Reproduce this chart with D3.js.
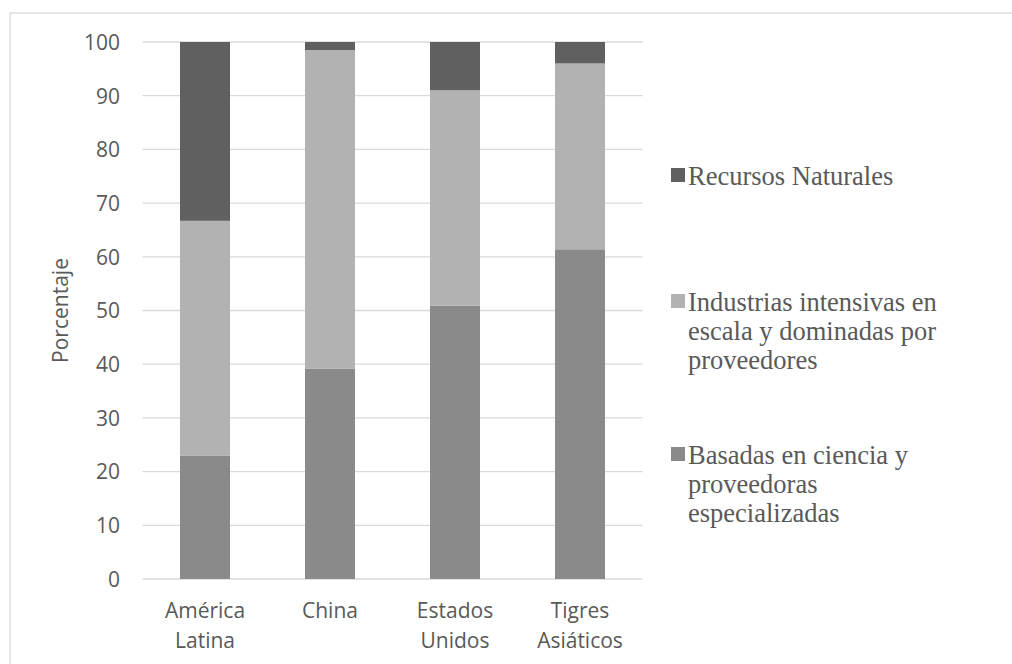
<!DOCTYPE html>
<html>
<head>
<meta charset="utf-8">
<script src="https://cdn.jsdelivr.net/npm/d3@7"></script>
<style>
  html, body { margin: 0; padding: 0; background: #fff; }
  svg { display: block; }
</style>
</head>
<body>
<svg id="chart" width="1012" height="664"></svg>
<script>
const categories = [["América", "Latina"], ["China"], ["Estados", "Unidos"], ["Tigres", "Asiáticos"]];
const categoryKeys = ["América Latina", "China", "Estados Unidos", "Tigres Asiáticos"];
const basadas = [23.0, 39.2, 50.9, 61.4];
const industrias = [43.7, 59.3, 40.1, 34.6];
const recursos = [33.3, 1.5, 9.0, 4.0];
const yTicks = [0, 10, 20, 30, 40, 50, 60, 70, 80, 90, 100];
const seriesNames = ["Basadas en ciencia y proveedoras especializadas", "Industrias intensivas en escala y dominadas por proveedores", "Recursos Naturales"];
const legendLines = [
  ["Recursos Naturales"],
  ["Industrias intensivas en", "escala y dominadas por", "proveedores"],
  ["Basadas en ciencia y", "proveedoras", "especializadas"]
];
const colors = { basadas: "#8a8a8a", industrias: "#b2b2b2", recursos: "#606060" };

const svg = d3.select("#chart");
const textColor = "#595959";
const gridColor = "#d9d9d9";
const sansSize = "21px";

// outer frame (top and left visible)
svg.append("rect").attr("x", 10).attr("y", 13).attr("width", 1100).attr("height", 800)
  .attr("fill", "none").attr("stroke", gridColor).attr("stroke-width", 1.3);

const plotLeft = 142.5, plotRight = 642.5, plotTop = 42, plotBottom = 579;

const x = d3.scaleBand().domain(categoryKeys).range([plotLeft, plotRight])
  .paddingInner(0.6).paddingOuter(0.3);
const y = d3.scaleLinear().domain([0, 100]).range([plotBottom, plotTop]);

// gridlines
svg.append("g").selectAll("line").data(yTicks).join("line")
  .attr("x1", plotLeft).attr("x2", plotRight)
  .attr("y1", d => y(d)).attr("y2", d => y(d))
  .attr("stroke", gridColor).attr("stroke-width", 1.3);

// y axis labels
const yAxis = d3.axisLeft(y).tickValues(yTicks).tickSize(0).tickPadding(0);
const yg = svg.append("g").attr("transform", `translate(120,0)`).call(yAxis);
yg.select(".domain").remove();
yg.selectAll("text").attr("fill", textColor)
  .style("font-family", "'Open Sans', sans-serif").style("font-size", sansSize)
  .attr("dy", "0.35em").attr("x", 0);

// stacked data
const rows = categoryKeys.map((k, i) => ({ key: k, basadas: basadas[i], industrias: industrias[i], recursos: recursos[i] }));
const stack = d3.stack().keys(["basadas", "industrias", "recursos"]);
const stacked = stack(rows);

svg.append("g").selectAll("g").data(stacked).join("g")
  .attr("fill", d => colors[d.key])
  .selectAll("rect").data(d => d).join("rect")
  .attr("x", d => x(d.data.key))
  .attr("width", x.bandwidth())
  .attr("y", d => y(d[1]))
  .attr("height", d => y(d[0]) - y(d[1]));

// x labels
const xl = svg.append("g");
categories.forEach((lines, i) => {
  const cx = x(categoryKeys[i]) + x.bandwidth() / 2;
  const t = xl.append("text").attr("text-anchor", "middle").attr("fill", textColor)
    .style("font-family", "'Open Sans', sans-serif").style("font-size", sansSize);
  lines.forEach((ln, j) => {
    t.append("tspan").attr("x", cx).attr("y", 618 + j * 29.5).text(ln);
  });
});

// y axis title
svg.append("text")
  .attr("transform", `translate(68,${(plotTop + plotBottom) / 2}) rotate(-90)`)
  .attr("text-anchor", "middle").attr("fill", textColor)
  .style("font-family", "'Open Sans', sans-serif").style("font-size", sansSize)
  .text("Porcentaje");

// legend
const legendColors = [colors.recursos, colors.industrias, colors.basadas];
const legendBaselines = [185, 311, 464];
const lg = svg.append("g");
legendLines.forEach((lines, i) => {
  const by = legendBaselines[i];
  lg.append("rect").attr("x", 671).attr("y", by - 17).attr("width", 14).attr("height", 14)
    .attr("fill", legendColors[i]);
  const t = lg.append("text").attr("fill", textColor)
    .style("font-family", "'Liberation Serif', 'Times New Roman', serif").style("font-size", "26.5px");
  lines.forEach((ln, j) => {
    t.append("tspan").attr("x", 688).attr("y", by + j * 29).text(ln);
  });
});
</script>
</body>
</html>
